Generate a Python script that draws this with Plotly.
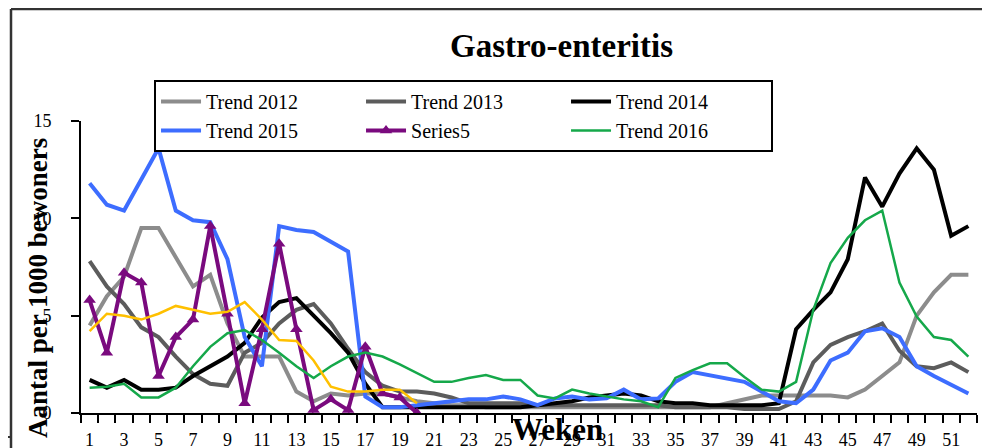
import plotly.graph_objects as go

weeks = list(range(1, 53))
short_weeks = list(range(1, 21))

trend_2012 = [4.5, 6.0, 7.0, 9.5, 9.5, 8.0, 6.5, 7.1, 4.6, 2.9, 2.9, 2.9, 1.1, 0.6, 1.0, 0.9,
              1.0, 1.0, 0.8, 0.6, 0.5, 0.4, 0.4, 0.3, 0.3, 0.3, 0.3, 0.3, 0.3, 0.3, 0.3, 0.3,
              0.3, 0.3, 0.3, 0.3, 0.3, 0.5, 0.7, 0.9, 0.9, 0.9, 0.9, 0.9, 0.8, 1.2, 1.9, 2.6,
              5.0, 6.2, 7.1, 7.1]
trend_2013 = [7.8, 6.5, 5.6, 4.4, 3.9, 2.9, 2.0, 1.5, 1.4, 3.1, 3.6, 4.6, 5.3, 5.6, 4.6, 3.3,
              2.1, 1.4, 1.1, 1.1, 1.0, 0.8, 0.5, 0.5, 0.5, 0.5, 0.4, 0.4, 0.4, 0.4, 0.4, 0.4,
              0.4, 0.4, 0.3, 0.3, 0.3, 0.3, 0.2, 0.2, 0.2, 0.6, 2.6, 3.5, 3.9, 4.2, 4.6, 3.2,
              2.4, 2.3, 2.6, 2.1]
trend_2014 = [1.7, 1.3, 1.7, 1.2, 1.2, 1.3, 1.9, 2.4, 2.9, 3.6, 4.9, 5.7, 5.9, 5.0, 4.1, 3.1,
              1.5, 0.3, 0.3, 0.3, 0.3, 0.3, 0.3, 0.3, 0.3, 0.3, 0.4, 0.5, 0.6, 0.8, 0.9, 1.0,
              0.9, 0.6, 0.5, 0.5, 0.4, 0.4, 0.4, 0.4, 0.5, 4.3, 5.3, 6.2, 7.9, 12.1, 10.6, 12.3,
              13.6, 12.5, 9.1, 9.6]
trend_2015 = [11.8, 10.7, 10.4, 12.0, 13.6, 10.4, 9.9, 9.8, 7.9, 3.9, 2.4, 9.6, 9.4, 9.3, 8.8, 8.3,
              0.85, 0.3, 0.3, 0.4, 0.5, 0.6, 0.7, 0.7, 0.85, 0.7, 0.4, 0.75, 0.85, 0.7, 0.75, 1.2,
              0.7, 0.75, 1.6, 2.1, 1.95, 1.8, 1.6, 1.1, 0.6, 0.5, 1.2, 2.7, 3.1, 4.2, 4.35, 3.9,
              2.4, 1.9, 1.45, 1.0]
series5 = [5.8, 3.1, 7.2, 6.7, 1.9, 3.9, 4.8, 9.6, 5.1, 0.5, 4.3, 8.7, 4.3, 0.15, 0.7, 0.15,
           3.4, 1.0, 0.8, 0.0]
trend_2016 = [1.3, 1.35, 1.5, 0.8, 0.8, 1.3, 2.4, 3.4, 4.1, 4.26, 3.75, 3.1, 2.4, 1.8, 2.4, 2.9,
              3.1, 2.9, 2.5, 2.05, 1.6, 1.6, 1.8, 1.95, 1.7, 1.7, 0.9, 0.75, 1.2, 1.0, 0.85, 0.7,
              0.6, 0.3, 1.8, 2.2, 2.55, 2.55, 1.85, 1.2, 1.1, 1.6, 5.3, 7.7, 9.0, 9.9, 10.4, 6.7,
              4.95, 3.9, 3.75, 2.9]
current_year = [4.2, 5.1, 5.0, 4.8, 5.1, 5.5, 5.3, 5.1, 5.2, 5.7, 4.8, 3.75, 3.7, 2.7, 1.35, 1.1,
                1.1, 1.2, 1.2, 0.5]

y_ticks = [0, 5, 10, 15]
x_labels = list(range(1, 53, 2))

SERIF = "Liberation Serif, Times New Roman, serif"

# the page body adds 8px around the figure, so the figure is 8px smaller
OFF = 8
W, H = 990 - OFF, 448 - OFF
# plot area edges, in screen pixels
X0, X1, Y0, Y1 = 81, 977, 121, 413
PW, PH = X1 - X0, Y1 - Y0


def px(x):
    return (x - X0) / PW


def py(y):
    return (Y1 - y) / PH


fig = go.Figure()
fig.add_trace(go.Scatter(x=weeks, y=trend_2012, name="Trend 2012", mode="lines",
                         line=dict(color="#8c8c8c", width=4)))
fig.add_trace(go.Scatter(x=weeks, y=trend_2013, name="Trend 2013", mode="lines",
                         line=dict(color="#5c5c5c", width=4)))
fig.add_trace(go.Scatter(x=weeks, y=trend_2014, name="Trend 2014", mode="lines",
                         line=dict(color="#000000", width=4)))
fig.add_trace(go.Scatter(x=weeks, y=trend_2015, name="Trend 2015", mode="lines",
                         line=dict(color="#3d6dff", width=4)))
fig.add_trace(go.Scatter(x=short_weeks, y=series5, name="Series5", mode="lines+markers",
                         line=dict(color="#7a0a7e", width=4),
                         marker=dict(symbol="triangle-up", size=11, color="#7a0a7e")))
fig.add_trace(go.Scatter(x=weeks, y=trend_2016, name="Trend 2016", mode="lines",
                         line=dict(color="#15a84a", width=2.5)))
fig.add_trace(go.Scatter(x=short_weeks, y=current_year, name="", mode="lines", showlegend=False,
                         line=dict(color="#ffc000", width=2.5)))

fig.update_xaxes(
    range=[0.5, 52.5], tickvals=x_labels, ticktext=[str(v) for v in x_labels],
    ticks="", showgrid=False, zeroline=False, showline=True, linecolor="black", linewidth=2,
    automargin=False,
    ticklabelstandoff=9, tickfont=dict(family=SERIF, size=18, color="black"),
    minor=dict(ticks="outside", tick0=0.5, dtick=1, ticklen=8, tickwidth=2, tickcolor="black",
               showgrid=False),
)
fig.update_yaxes(
    range=[0, 15], tickvals=y_ticks, ticks="outside", ticklen=8, tickwidth=2, tickcolor="black",
    showgrid=False, zeroline=False, showline=True, linecolor="black", linewidth=2,
    automargin=False,
    ticklabelstandoff=16, tickfont=dict(family=SERIF, size=18, color="black"),
)

fig.update_layout(
    width=W, height=H,
    margin=dict(l=X0 - OFF, r=W - (X1 - OFF), t=Y0 - OFF, b=H - (Y1 - OFF)),
    paper_bgcolor="white", plot_bgcolor="white",
    font=dict(family=SERIF, color="black"),
    showlegend=True,
    legend=dict(
        orientation="h", x=px(171), y=py(80), xanchor="left", yanchor="top",
        entrywidth=150, entrywidthmode="pixels",
        bordercolor="black", borderwidth=2, bgcolor="white",
        font=dict(family=SERIF, size=20, color="black"),
        itemwidth=40, tracegroupgap=0,
    ),
    annotations=[
        dict(text="<b>Gastro-enteritis</b>", x=px(561), y=py(46), xref="paper", yref="paper",
             xanchor="center", yanchor="middle",
             showarrow=False, font=dict(family=SERIF, size=33, color="black")),
        dict(text="<b>Aantal per 1000 bewoners</b>", x=px(38), y=py(288), xref="paper",
             yref="paper", textangle=-90, xanchor="center", yanchor="middle", showarrow=False,
             font=dict(family=SERIF, size=27, color="black")),
        dict(text="<b>Weken</b>", x=px(557), y=py(429), xref="paper", yref="paper",
             xanchor="center", yanchor="middle",
             showarrow=False, font=dict(family=SERIF, size=31, color="black")),
    ],
    shapes=[
        dict(type="line", xref="paper", yref="paper", x0=px(11), x1=px(1000), y0=py(9), y1=py(9),
             line=dict(color="#333333", width=2.5)),
        dict(type="line", xref="paper", yref="paper", x0=px(11), x1=px(11), y0=py(9), y1=py(460),
             line=dict(color="#333333", width=2.5)),
        dict(type="line", xref="paper", yref="paper", x0=px(0), x1=px(11), y0=py(437), y1=py(437),
             line=dict(color="#333333", width=2)),
    ],
)

fig.write_html("out.html")
